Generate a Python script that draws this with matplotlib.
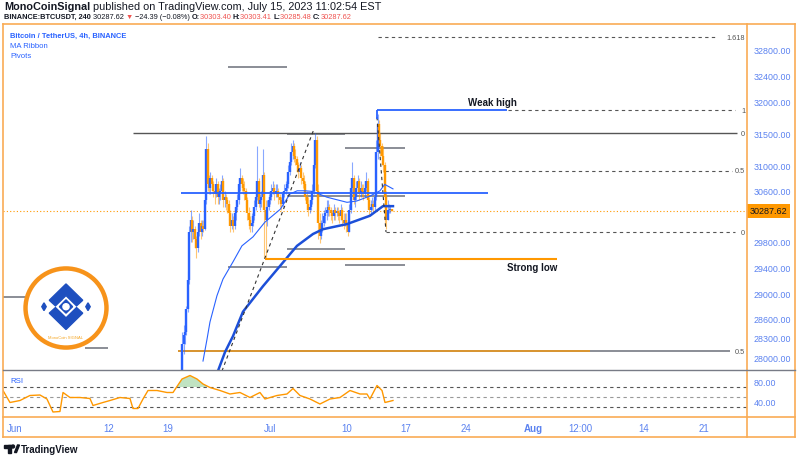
import matplotlib
matplotlib.use("Agg")
import matplotlib.pyplot as plt
from matplotlib.patches import Circle, Polygon, Rectangle
from matplotlib.transforms import blended_transform_factory

plt.rcParams['font.family'] = ['Liberation Sans', 'DejaVu Sans']

# time axis is in days since Jun 1 00:00
# 4h candles from Jun 20 00:00 to Jul 15 08:00
first_day = 19.0
first_open = 26800
closes = [
    26850, 26900, 27100, 27300, 28200, 28350,   # Jun 20
    28400, 28750, 29200, 29950, 30150, 29950,   # Jun 21
    30000, 29850, 29700, 29950, 30100, 29950,   # Jun 22
    30050, 30000, 30450, 31250, 30700, 30650,   # Jun 23
    30800, 30700, 30600, 30550, 30700, 30500,   # Jun 24
    30550, 30600, 30750, 30450, 30500, 30450,   # Jun 25
    30400, 30250, 30050, 30150, 30050, 30250,   # Jun 26
    30350, 30450, 30700, 30800, 30700, 30650,   # Jun 27
    30600, 30450, 30250, 30150, 30050, 30100,   # Jun 28
    30200, 30350, 30500, 30750, 30400, 30450,   # Jun 29
    30500, 30850, 30300, 30150, 30350, 30450,   # Jun 30
    30500, 30600, 30650, 30550, 30600, 30600,   # Jul 1
    30500, 30450, 30400, 30550, 30600, 30650,   # Jul 2
    30700, 30900, 31050, 31200, 31300, 31150,   # Jul 3
    31100, 31000, 30900, 30950, 30800, 30750,   # Jul 4
    30700, 30500, 30400, 30300, 30350, 30450,   # Jul 5
    30600, 31000, 31400, 30600, 30100, 29900,   # Jul 6
    30000, 30100, 30200, 30250, 30300, 30350,   # Jul 7
    30300, 30250, 30200, 30300, 30250, 30280,   # Jul 8
    30250, 30200, 30300, 30150, 30100, 30150,   # Jul 9
    30100, 29950, 30300, 30650, 30800, 30450,   # Jul 10
    30500, 30650, 30750, 30550, 30650, 30600,   # Jul 11
    30550, 30650, 30750, 30450, 30300, 30350,   # Jul 12
    30400, 30350, 30500, 31200, 31650, 31400,   # Jul 13
    31300, 31150, 31000, 30500, 30150, 30300,   # Jul 14
    30300, 30320, 30287.62,                     # Jul 15
]
highs = [
    26950, 26980, 27200, 27450, 28400, 28500,
    28550, 28800, 29350, 30050, 30300, 30200,
    30150, 30050, 29900, 30050, 30250, 30150,
    30150, 30150, 30500, 31450, 31350, 30850,
    30900, 30850, 30750, 30650, 30800, 30750,
    30650, 30700, 30850, 30800, 30600, 30550,
    30500, 30450, 30300, 30250, 30200, 30350,
    30450, 30550, 30800, 30950, 30850, 30800,
    30750, 30650, 30500, 30350, 30200, 30250,
    30300, 30450, 30600, 31300, 30800, 30550,
    30600, 31250, 30900, 30450, 30450, 30550,
    30600, 30700, 30750, 30700, 30700, 30700,
    30650, 30550, 30500, 30600, 30700, 30750,
    30800, 31000, 31150, 31350, 31400, 31350,
    31250, 31150, 31050, 31050, 31000, 30900,
    30850, 30750, 30600, 30500, 30450, 30550,
    30700, 31100, 31500, 31450, 30700, 30250,
    30150, 30250, 30300, 30350, 30450, 30450,
    30400, 30350, 30300, 30400, 30350, 30350,
    30350, 30300, 30400, 30350, 30250, 30250,
    30250, 30150, 30400, 30750, 31050, 30850,
    30600, 30750, 30850, 30800, 30750, 30700,
    30700, 30750, 30900, 30800, 30500, 30450,
    30500, 30450, 30600, 31400, 31800, 31700,
    31500, 31350, 31300, 31050, 30600, 30450,
    30400, 30380, 30303.41,
]
lows = [
    26650, 26800, 26850, 27050, 27300, 28050,
    28200, 28350, 28700, 29150, 29800, 29800,
    29850, 29700, 29550, 29650, 29900, 29850,
    29900, 29950, 29980, 30400, 30600, 30550,
    30550, 30600, 30500, 30400, 30500, 30400,
    30400, 30450, 30550, 30350, 30350, 30300,
    30250, 30150, 29950, 30000, 29950, 30000,
    30150, 30300, 30400, 30600, 30600, 30550,
    30450, 30350, 30150, 30000, 29950, 29950,
    30050, 30150, 30300, 30450, 30350, 30300,
    30350, 30450, 29550, 29550, 30050, 30300,
    30400, 30450, 30550, 30450, 30500, 30500,
    30400, 30350, 30300, 30350, 30500, 30550,
    30600, 30650, 30850, 31000, 31100, 31050,
    31000, 30900, 30800, 30850, 30700, 30650,
    30600, 30450, 30300, 30200, 30250, 30300,
    30400, 30550, 30950, 30500, 29850, 29780,
    29850, 29950, 30050, 30100, 30150, 30200,
    30200, 30150, 30100, 30150, 30150, 30200,
    30150, 30100, 30150, 30050, 30000, 30050,
    29950, 29900, 29950, 30250, 30550, 30400,
    30350, 30450, 30600, 30450, 30500, 30500,
    30450, 30500, 30600, 30350, 30200, 30250,
    30300, 30250, 30300, 30450, 31100, 31300,
    31150, 31000, 30900, 30050, 30000, 30150,
    30250, 30250, 30285.48,
]
last_price = 30287.62

# MA ribbon (fast thin line, slow thick line)
ma_fast_days = [22.12, 22.59, 22.94, 23.76, 24.47, 25.65, 26.7, 28.0, 29.4, 31.2,
                32.35, 33.2, 34.1, 35.05, 36.7, 39.06, 40.2, 41.8, 42.94, 43.5, 44.47]
ma_fast = [27940, 28280, 28550, 28960, 29220, 29490, 29740, 29880, 30110, 30310,
           30550, 30600, 30600, 30590, 30500, 30420, 30440, 30520, 30600, 30700, 30630]
ma_slow_days = [23.88, 24.71, 25.65, 26.82, 28.0, 29.18, 31.18, 32.35, 33.18, 35.06,
                36.24, 39.06, 41.76, 43.29, 44.47]
ma_slow = [27785, 28080, 28330, 28710, 28910, 29110, 29425, 29610, 29740, 29925,
           30000, 30080, 30210, 30360, 30360]

# RSI (14)
rsi_days = [-1.41, -0.59, 0.59, 1.76, 2.94, 3.76, 4.47, 5.29, 5.65, 6.47, 7.65, 8.82,
            9.18, 10.35, 11.18, 12.35, 13.53, 13.88, 14.47, 15.06, 15.65, 16.71, 17.88,
            18.59, 19.65, 20.59, 21.41, 22.12, 22.94, 24.12, 25.29, 26.47, 27.65, 28.82,
            29.41, 30.82, 32.0, 32.71, 33.53, 34.71, 35.88, 37.06, 38.24, 39.41, 40.59,
            41.41, 41.76, 42.59, 43.18, 43.53, 44.47]
rsi = [63, 39, 43, 53, 54, 46, 20, 21, 59, 49, 49, 47,
       33, 39, 43, 49, 47, 27, 27, 46, 63, 63, 59,
       59, 86, 93, 86, 76, 69, 63, 56, 59, 49, 59,
       46, 53, 56, 67, 53, 46, 36, 46, 49, 63, 56,
       56, 46, 73, 63, 39, 43]

# pivot levels: (start day, end day, price)
pivots = [(-1.4, 1.2, 28940), (8.2, 10.9, 28140), (19.2, 84.1, 28090),
          (25.1, 32.0, 32530), (25.1, 32.0, 29410),
          (32.0, 38.8, 31490), (32.0, 38.8, 29690), (38.8, 45.9, 31270), (38.8, 45.9, 29440),
          (32.0, 45.9, 30520)]
# fibonacci levels: (start day, end day, price, label)
fib_levels = [(42.7, 82.4, 33000, '1.618'), (58.0, 84.7, 31860, '1'),
              (43.5, 84.4, 30910, '0.5'), (43.7, 84.7, 29956, '0')]
fib_solid = [(13.9, 84.9, 31500, '0')]
fib_label_low = (28090, '0.5')

price_ticks = [32800, 32400, 32000, 31500, 31000, 30600, 29800, 29400, 29000, 28600, 28300, 28000]
time_ticks = [0, 11, 18, 30, 39, 46, 53, 61, 66.5, 74, 81]
time_labels = ['Jun', '12', '19', 'Jul', '10', '17', '24', 'Aug', '12:00', '14', '21']

BLUE = '#2962ff'
ORANGE = '#ff9800'
FRAME = '#f9ab55'
TICKC = '#5b82f0'

fig = plt.figure(figsize=(8, 4.6), dpi=100)


def box(x0, y0, x1, y1):
    return [x0 / 800, 1 - y1 / 460, (x1 - x0) / 800, (y1 - y0) / 460]


ax = fig.add_axes(box(3, 25, 747, 371))
rax = fig.add_axes(box(3, 371, 747, 418))
for a in (ax, rax):
    a.set_xlim(-1.41, 86.12)
    for s in a.spines.values():
        s.set_visible(False)
ax.set_ylim(27800, 33206)
rax.set_ylim(10, 104)

# candles
days = [first_day + i / 6 for i in range(len(closes))]
opens = [first_open] + closes[:-1]
cols = [BLUE if c >= o else ORANGE for o, c in zip(opens, closes)]
ax.vlines(days, lows, highs, colors=cols, lw=0.8, alpha=0.55, zorder=3)
ax.vlines(days, [min(o, c) for o, c in zip(opens, closes)],
          [max(o, c) for o, c in zip(opens, closes)], colors=cols, lw=1.7, zorder=3)

ax.plot(ma_fast_days, ma_fast, color=BLUE, lw=0.8, zorder=4)
ax.plot(ma_slow_days, ma_slow, color='#1c4fd8', lw=1.8, zorder=4)

# pivots and drawings
for d0, d1, p in pivots:
    ax.hlines(p, d0, d1, color='#8a8d96', lw=1.4, zorder=2)
ax.hlines(28090, 19.2, 67.6, color=ORANGE, lw=1.2, alpha=0.8, zorder=2)
yb = blended_transform_factory(ax.transAxes, ax.transData)
for d0, d1, p, lab in fib_levels:
    ax.hlines(p, d0, d1, color='#555555', lw=0.8, linestyles=(0, (3, 3)), zorder=2)
    ax.text(0.9975, p, lab, transform=yb, ha='right', va='center', fontsize=5.3, color='#555555')
for d0, d1, p, lab in fib_solid:
    ax.hlines(p, d0, d1, color='#555555', lw=1.0, zorder=2)
    ax.text(0.9975, p, lab, transform=yb, ha='right', va='center', fontsize=5.3, color='#555555')
ax.text(0.9975, fib_label_low[0], fib_label_low[1], transform=yb, ha='right', va='center',
        fontsize=5.3, color='#555555')

ax.plot([24.35, 35.18], [27784, 31566], color='#333333', lw=0.8, ls=(0, (3, 3)), zorder=5)
ax.plot([42.59, 43.65], [31753, 29956], color='#333333', lw=0.8, ls=(0, (3, 3)), zorder=5)

ax.hlines(30566, 19.5, 55.6, color=BLUE, lw=1.3, zorder=5)
ax.hlines(31860, 42.6, 57.9, color=BLUE, lw=1.3, zorder=5)
ax.vlines(42.6, 31720, 31860, color=BLUE, lw=1.3, zorder=5)
ax.text(56.2, 31990, 'Weak high', fontsize=7, fontweight='bold', ha='center', va='center', color='#131722')
ax.hlines(29534, 29.4, 63.8, color=ORANGE, lw=1.5, zorder=5)
ax.text(60.8, 29410, 'Strong low', fontsize=7, fontweight='bold', ha='center', va='center', color='#131722')

ax.axhline(last_price, color=ORANGE, lw=0.8, ls=(0, (1, 2)), zorder=1)
ax.text(1.003, last_price, '%.2f' % last_price, transform=yb, ha='left', va='center', fontsize=6.5,
        color='#131722', bbox=dict(boxstyle='square,pad=0.3', fc=ORANGE, ec='none'), clip_on=False)

ax.set_yticks(price_ticks)
ax.set_yticklabels(['%.2f' % t for t in price_ticks])
ax.yaxis.tick_right()
ax.tick_params(axis='y', length=0, pad=4.5, labelsize=6.4, labelcolor=TICKC)
ax.set_xticks([])

ax.text(0.01, 0.968, 'Bitcoin / TetherUS, 4h, BINANCE', transform=ax.transAxes, fontsize=5.4,
        color=BLUE, fontweight='bold', va='center')
ax.text(0.01, 0.937, 'MA Ribbon', transform=ax.transAxes, fontsize=5.6, color=BLUE, va='center')
ax.text(0.01, 0.908, 'Pivots', transform=ax.transAxes, fontsize=5.6, color=BLUE, va='center')

# RSI pane
for lvl, c in ((70, '#555555'), (50, '#999999'), (30, '#555555')):
    rax.axhline(lvl, color=c, lw=0.8, ls=(0, (3, 3)))
rax.plot(rsi_days, rsi, color=ORANGE, lw=1.0)
rax.fill_between(rsi_days, 70, rsi, where=[v > 70 for v in rsi], interpolate=True,
                 color='#4caf50', alpha=0.35, lw=0)
rax.text(0.01, 0.78, 'RSI', transform=rax.transAxes, fontsize=5.6, color=BLUE, va='center')
rax.set_yticks([80, 40])
rax.set_yticklabels(['80.00', '40.00'])
rax.yaxis.tick_right()
rax.tick_params(axis='y', length=0, pad=4.5, labelsize=6.4, labelcolor=TICKC)
rax.set_xticks(time_ticks)
rax.set_xticklabels(time_labels)
rax.tick_params(axis='x', length=0, pad=4.5, labelsize=7, labelcolor=TICKC)
for lab in rax.get_xticklabels():
    if lab.get_text() == 'Aug':
        lab.set_fontweight('bold')

# overlay in pixel coordinates for frame, header and footer
ov = fig.add_axes([0, 0, 1, 1])
ov.set_xlim(0, 800)
ov.set_ylim(460, 0)
ov.axis('off')
ov.patch.set_alpha(0)
for xs, ys in (([3, 795], [25, 25]), ([3, 795], [438, 438]), ([3, 3], [25, 438]),
               ([795, 795], [25, 438]), ([747, 747], [25, 438]), ([3, 795], [418, 418])):
    ov.plot(xs, ys, color=FRAME, lw=1.2)
ov.plot([3, 795], [371, 371], color='#787b86', lw=1.0)

r = fig.canvas.get_renderer()


def write_seq(x, y, parts, size):
    for s, color, weight in parts:
        t = ov.text(x, y, s, color=color, fontsize=size, fontweight=weight, va='center', ha='left')
        x = t.get_window_extent(renderer=r).x1
    return x


RED = '#ef5350'
DARK = '#131722'
write_seq(4, 7, [('MonoCoinSignal', DARK, 'bold'),
                 (' published on TradingView.com, July 15, 2023 11:02:54 EST', DARK, 'normal')], 7.8)
write_seq(4, 17.5, [('BINANCE:BTCUSDT, 240', DARK, 'bold'), (' 30287.62 ', DARK, 'normal'),
                    ('\u25bc', RED, 'normal'), (' \u221224.39 (\u22120.08%) ', DARK, 'normal'),
                    ('O:', DARK, 'bold'), ('30303.40 ', RED, 'normal'),
                    ('H:', DARK, 'bold'), ('30303.41 ', RED, 'normal'),
                    ('L:', DARK, 'bold'), ('30285.48 ', RED, 'normal'),
                    ('C:', DARK, 'bold'), ('30287.62', RED, 'normal')], 5.3)

# TradingView footer logo
ov.add_patch(Rectangle((4, 446), 7, 2.5, color=DARK))
ov.add_patch(Rectangle((7.5, 446), 3.5, 7.5, color=DARK))
ov.add_patch(Circle((13, 447.5), 1.5, color=DARK))
ov.add_patch(Polygon([[14.5, 453.5], [17.5, 446], [19.5, 446], [16.5, 453.5]], color=DARK))
ov.text(20.5, 450, 'TradingView', fontsize=7, fontweight='bold', color=DARK, va='center')

# MonoCoin logo
lg = fig.add_axes(box(22, 266, 110, 352))
lg.set_xlim(-1, 1)
lg.set_ylim(-1, 1)
lg.axis('off')
lg.add_patch(Circle((0, 0), 0.92, fc='white', ec='#f7931a', lw=3.2))
LB = '#1e4fbf'
lg.add_patch(Polygon([[-0.38, 0.18], [0, 0.56], [0.38, 0.18], [0.24, 0.05], [0, 0.29], [-0.24, 0.05]], color=LB))
lg.add_patch(Polygon([[-0.38, -0.12], [0, -0.5], [0.38, -0.12], [0.24, 0.01], [0, -0.23], [-0.24, 0.01]], color=LB))
lg.add_patch(Polygon([[0, 0.19], [0.15, 0.03], [0, -0.12], [-0.15, 0.03]], color=LB))
lg.add_patch(Circle((0, 0.03), 0.07, color='white'))
for sx in (-1, 1):
    lg.add_patch(Polygon([[sx * 0.5, 0.12], [sx * 0.55, 0.03], [sx * 0.5, -0.06], [sx * 0.45, 0.03]], color=LB))
lg.text(0, -0.68, 'MonoCoin SIGNAL', fontsize=3, color='#f5a623', ha='center', va='center')

fig.savefig('out.png', dpi=100)
